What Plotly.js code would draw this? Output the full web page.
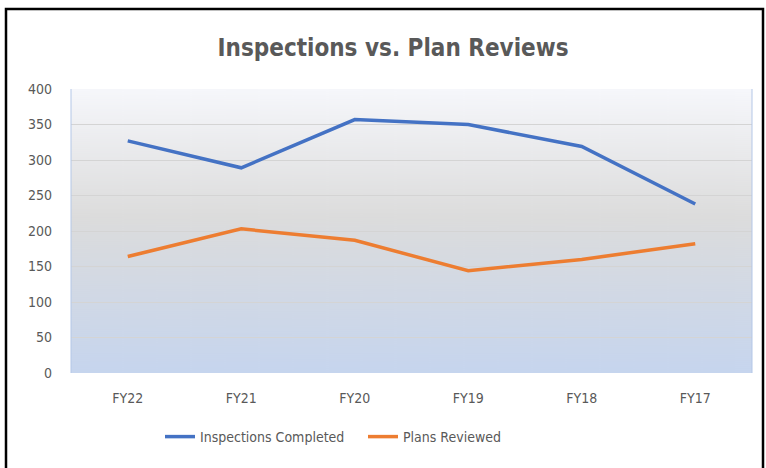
<!DOCTYPE html>
<html><head><meta charset="utf-8">
<script src="https://cdn.plot.ly/plotly-3.0.1.min.js"></script>
<style>html,body{margin:0;padding:0;background:#fff;}#chart{width:766px;height:468px;}</style>
</head><body><div id="chart"></div>
<script>
const categories = ["FY22","FY21","FY20","FY19","FY18","FY17"];
const inspections = [327, 289, 357, 350, 319, 238];
const plansReviewed = [164, 203, 187, 144, 160, 182];
const yTicks = [0,50,100,150,200,250,300,350,400];

const W=766,H=468, L=71, R=14, T=89, B=95;
const cv=document.createElement('canvas'); cv.width=20; cv.height=284;
const cx=cv.getContext('2d');
const g=cx.createLinearGradient(0,0,0,284);
g.addColorStop(0,'#f6f7fb');
g.addColorStop(0.45,'#dcdcdc');
g.addColorStop(1,'#c6d5ee');
cx.fillStyle=g; cx.fillRect(0,0,20,284);
const bg=cv.toDataURL();

const font="'DejaVu Sans Condensed', 'Noto Sans', sans-serif";
const traces=[
 {x:categories,y:inspections,type:'scatter',mode:'lines',name:'Inspections Completed',line:{color:'#4472C4',width:3.5}},
 {x:categories,y:plansReviewed,type:'scatter',mode:'lines',name:'Plans Reviewed',line:{color:'#ED7D31',width:3.5}}
];
const layout={
 width:W,height:H,
 margin:{l:L,r:R,t:T,b:B},
 paper_bgcolor:'#ffffff',plot_bgcolor:'rgba(0,0,0,0)',
 font:{family:font,color:'#595959',size:14},
 title:{text:'<b>Inspections vs. Plan Reviews</b>',x:393/W,xanchor:'center',y:1-48/H,yanchor:'middle',font:{family:font,size:24,color:'#595959'}},
 xaxis:{type:'category',range:[-0.5,5.5],showgrid:false,zeroline:false,showline:false,ticks:'',tickfont:{size:14,color:'#595959'},ticklabelstandoff:15,fixedrange:true},
 yaxis:{range:[0,400],tickvals:yTicks,showgrid:true,gridcolor:'#d4d4d4',gridwidth:1,zeroline:false,showline:false,ticks:'',tickfont:{size:14,color:'#595959'},ticklabelstandoff:18,fixedrange:true},
 legend:{orientation:'h',x:(160-L)/(W-L-R),xanchor:'left',y:-(437-373)/(H-T-B),yanchor:'middle',font:{size:14,color:'#595959'},itemwidth:30,entrywidth:158,entrywidthmode:'pixels'},
 images:[{source:bg,xref:'paper',yref:'paper',x:0,y:1,sizex:1,sizey:1,sizing:'stretch',layer:'below',xanchor:'left',yanchor:'top'}],
 shapes:[
  {type:'line',xref:'paper',yref:'paper',x0:0,x1:0,y0:0,y1:1,line:{color:'#b4c7e7',width:1}},
  {type:'line',xref:'paper',yref:'paper',x0:1,x1:1,y0:0,y1:1,line:{color:'#b4c7e7',width:1}},
  {type:'rect',xref:'paper',yref:'paper',x0:-(L-6)/(W-L-R),x1:1+(R-3)/(W-L-R),y0:-(B+5)/(H-T-B),y1:1+(T-9)/(H-T-B),line:{color:'#000',width:2.5},fillcolor:'rgba(0,0,0,0)'}
 ],
 showlegend:true
};
Plotly.newPlot('chart',traces,layout,{displayModeBar:false,staticPlot:true});
</script></body></html>
